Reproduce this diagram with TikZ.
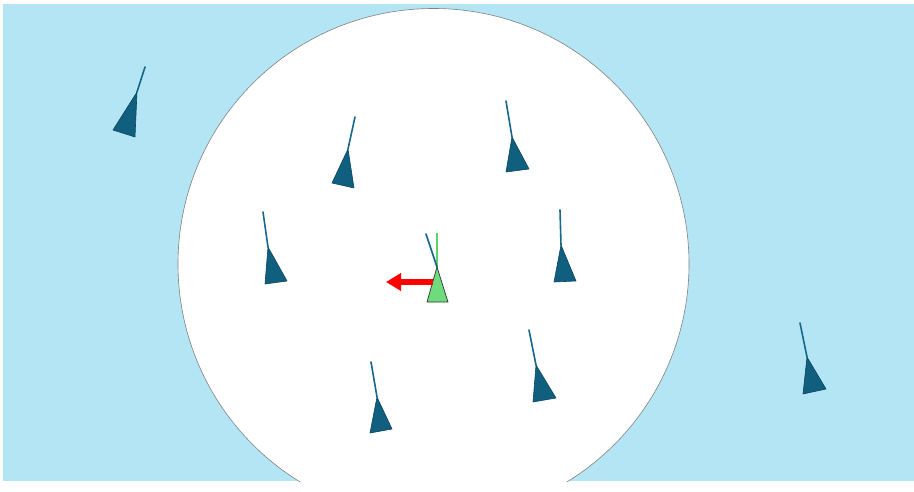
\documentclass[tikz,border=0pt]{standalone}
\usetikzlibrary{arrows.meta}
\definecolor{skyb}{HTML}{B3E5F5}
\definecolor{boidfill}{HTML}{105F7E}
\definecolor{boidedge}{HTML}{0B4660}
\definecolor{boidln}{HTML}{17678A}
\definecolor{greenfill}{HTML}{6EDB7C}
\definecolor{greenln}{HTML}{5AD46A}
\tikzset{
  boidline/.style={draw=boidln, line width=1.6pt, line cap=round},
  boidtri/.style={fill=boidfill, draw=boidedge, line width=0.6pt, line join=round},
  mytri/.style={fill=greenfill, draw=black!80, line width=0.7pt, line join=round},
}
\newcommand{\myboid}[4]{\draw[boidline] #1 -- #4; \filldraw[boidtri] #1 -- #2 -- #3 -- cycle;}
\begin{document}
\begin{tikzpicture}[x=1pt,y=-1pt]
\useasboundingbox (0,0) rectangle (914,492);
\fill[white] (0,0) rectangle (914,492);
\fill[skyb] (3,4) rectangle (914,481);
\begin{scope}
\clip (3,4) rectangle (914,481);
\filldraw[fill=white, draw=black!50, line width=0.6pt] (433.5,264) circle (255.5);
\end{scope}
% neighbours
\myboid{(137,92)}{(113,130)}{(135,137)}{(145,67)}
\myboid{(348,149)}{(332,183)}{(354,188)}{(355,117)}
\myboid{(512,137)}{(506,172)}{(529,169)}{(506,101)}
\myboid{(268,247)}{(265,284)}{(287,281)}{(263,212)}
\myboid{(561,245)}{(554,282)}{(576,281)}{(560,210)}
\myboid{(377,397)}{(370,433)}{(392,429)}{(371,362)}
\myboid{(536,365)}{(533,402)}{(556,398)}{(529,330)}
\myboid{(807,357)}{(803,394)}{(826,389)}{(800,323)}
% focal boid
\coordinate (fa) at (437,267);
\coordinate (gt) at (437,233);
\coordinate (bt) at (426,234);
\coordinate (as) at (433,282);
\coordinate (ae) at (386,282);
\draw[greenln, line width=1.6pt] (fa) -- (gt);
\draw[boidline] (fa) -- (bt);
\filldraw[mytri] (fa) -- (427,302) -- (448,302) -- cycle;
\draw[red, line width=5.5pt, -{Triangle[length=15pt,width=17pt]}] (as) -- (ae);
\end{tikzpicture}
\end{document}
